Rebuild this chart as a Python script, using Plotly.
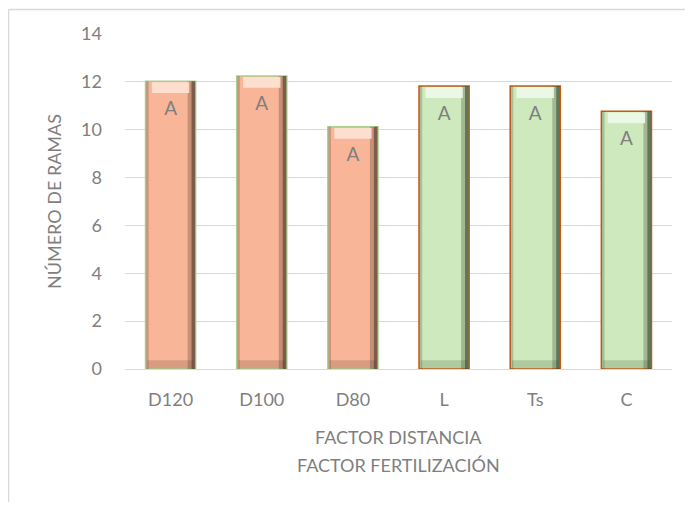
import plotly.graph_objects as go

categories = ["D120", "D100", "D80", "L", "Ts", "C"]
values = [12.03, 12.25, 10.12, 11.83, 11.83, 10.77]
letters = ["A", "A", "A", "A", "A", "A"]
fill_colors = ["#F9B597", "#F9B597", "#F9B597", "#CDE9BD", "#CDE9BD", "#CDE9BD"]
edge_colors = ["#A9D08E", "#A9D08E", "#A9D08E", "#C55A11", "#C55A11", "#C55A11"]
shade_colors = ["#4E3A2E", "#4E3A2E", "#4E3A2E", "#3A4A30", "#3A4A30", "#3A4A30"]
top_colors = ["#FDE3D6", "#FDE3D6", "#FDE3D6", "#F0FAEA", "#F0FAEA", "#F0FAEA"]
x_title_lines = ["FACTOR DISTANCIA", "FACTOR FERTILIZACIÓN"]

W = 0.55
fig = go.Figure()
fig.add_trace(go.Bar(
    x=categories, y=values, width=W, offset=-W/2,
    marker=dict(color=fill_colors, line=dict(color=edge_colors, width=1.5)),
    hoverinfo="skip", showlegend=False))
fig.add_trace(go.Bar(
    x=categories, y=values, width=0.08, offset=W/2 - 0.088,
    marker=dict(color=shade_colors, opacity=0.3, line=dict(width=0)),
    hoverinfo="skip", showlegend=False))
fig.add_trace(go.Bar(
    x=categories, y=values, width=0.04, offset=W/2 - 0.045,
    marker=dict(color=shade_colors, opacity=0.6, line=dict(width=0)),
    hoverinfo="skip", showlegend=False))
fig.add_trace(go.Bar(
    x=categories, y=values, width=0.03, offset=-W/2 + 0.005,
    marker=dict(color=shade_colors, opacity=0.25, line=dict(width=0)),
    hoverinfo="skip", showlegend=False))
fig.add_trace(go.Bar(
    x=categories, y=[0.45] * len(values), base=[v - 0.5 for v in values],
    width=W - 0.14, offset=-W/2 + 0.07,
    marker=dict(color=top_colors, opacity=0.9, line=dict(width=0)),
    hoverinfo="skip", showlegend=False))
fig.add_trace(go.Bar(
    x=categories, y=[0.35] * len(values), base=[0.02] * len(values),
    width=W - 0.04, offset=-W/2 + 0.02,
    marker=dict(color=shade_colors, opacity=0.2, line=dict(width=0)),
    hoverinfo="skip", showlegend=False))
fig.add_trace(go.Scatter(
    x=categories, y=[v - 1.22 for v in values], mode="text", text=letters,
    textfont=dict(size=19, color="#7F7F7F"), hoverinfo="skip", showlegend=False))

L, R, T, B = 117, 13, 26, 133
PW = 677 - L - R
PH = 494 - T - B

fig.update_layout(
    width=677, height=494,
    barmode="overlay",
    bargap=0.45,
    paper_bgcolor="white", plot_bgcolor="white",
    margin=dict(l=L, r=R, t=T, b=B, autoexpand=False),
    font=dict(family="Lato, Open Sans, sans-serif", color="#7F7F7F", size=18),
    xaxis=dict(
        showgrid=False, showline=False, ticks="", tickfont=dict(size=18, color="#7F7F7F"),
        ticklabelstandoff=18, automargin=False,
    ),
    yaxis=dict(
        title=dict(text="NÚMERO DE RAMAS", font=dict(size=18, color="#7F7F7F"), standoff=14),
        range=[0, 14], dtick=2, showgrid=True, gridcolor="#D9D9D9", gridwidth=1,
        zeroline=True, zerolinecolor="#D9D9D9", zerolinewidth=1,
        showline=False, ticks="", tickfont=dict(size=18, color="#7F7F7F"),
        ticklabelstandoff=22, automargin=False,
    ),
    annotations=[
        dict(text=x_title_lines[0], xref="paper", yref="paper", x=0.5, y=-68 / PH,
             xanchor="center", yanchor="middle", showarrow=False,
             font=dict(size=18, color="#7F7F7F")),
        dict(text=x_title_lines[1], xref="paper", yref="paper", x=0.5, y=-96 / PH,
             xanchor="center", yanchor="middle", showarrow=False,
             font=dict(size=18, color="#7F7F7F")),
    ],
    shapes=[
        dict(type="line", xref="paper", yref="paper",
             x0=-(L - 0.5) / PW, x1=(PW + R) / PW,
             y0=(PH + T - 1.5) / PH, y1=(PH + T - 1.5) / PH,
             line=dict(color="#D9D9D9", width=1.5), layer="below"),
        dict(type="line", xref="paper", yref="paper",
             x0=-(L - 0.5) / PW, x1=-(L - 0.5) / PW,
             y0=-B / PH, y1=(PH + T - 1.5) / PH,
             line=dict(color="#D9D9D9", width=1.5), layer="below"),
    ],
)

fig.write_html("out.html")
